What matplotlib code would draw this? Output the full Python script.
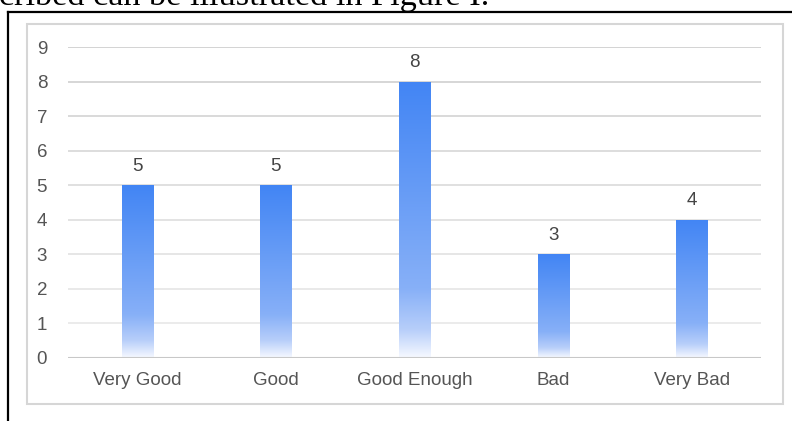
import numpy as np
import matplotlib
matplotlib.use("Agg")
import matplotlib.pyplot as plt
from matplotlib.colors import LinearSegmentedColormap
from matplotlib.patches import Rectangle

categories = ["Very Good", "Good", "Good Enough", "Bad", "Very Bad"]
values = [5, 5, 8, 3, 4]
y_ticks = [0, 1, 2, 3, 4, 5, 6, 7, 8, 9]
caption = "cribed can be illustrated in Figure I."

W, H = 792, 421
fig = plt.figure(figsize=(W / 100, H / 100), dpi=100)
fig.patch.set_facecolor("white")

def fx(px):
    return px / W

def fy(py):
    return 1 - py / H

# document caption text (cut off at top, as in the reference)
t = fig.text(fx(-1), fy(5), caption, family="Liberation Serif", fontsize=20,
             va="baseline", ha="left", color="black")
fig.canvas.draw()
bb = t.get_window_extent()
t.set_fontsize(20 * 492 / bb.width)

# black frame (document border)
fig.add_artist(plt.Line2D([fx(8), fx(800)], [fy(12), fy(12)], color="black", lw=1.6))
fig.add_artist(plt.Line2D([fx(8), fx(8)], [fy(12), fy(430)], color="black", lw=1.6))

# light gray chart box
fig.add_artist(Rectangle((fx(27), fy(404)), fx(783) - fx(27), fy(24) - fy(404),
                         fill=False, edgecolor="#d6d6d6", lw=1.5))

ax = fig.add_axes([fx(68), fy(358), fx(761) - fx(68), fy(47) - fy(358)])
ax.set_xlim(-0.5, len(categories) - 0.5)
ax.set_ylim(0, 9)
for s in ax.spines.values():
    s.set_visible(False)

for yv in y_ticks[1:]:
    frac = yv / 9
    c = np.array([0.925, 0.925, 0.925]) * (1 - frac) + np.array([0.80, 0.80, 0.80]) * frac
    ax.axhline(yv, color=c, lw=1.2, zorder=0)
ax.axhline(0, color="#c8c8c8", lw=1.5, zorder=3)

ax.set_yticks(y_ticks)
ax.set_yticklabels([str(v) for v in y_ticks])
ax.set_xticks(range(len(categories)))
ax.set_xticklabels(categories)
ax.tick_params(axis="both", length=0, labelsize=13.5, labelcolor="#555555")
ax.tick_params(axis="y", pad=15)
ax.tick_params(axis="x", pad=10)
for lab in ax.get_xticklabels() + ax.get_yticklabels():
    lab.set_family("Liberation Sans")

cmap = LinearSegmentedColormap.from_list("g", [
    (0.0, (0.965, 0.975, 1.0)),
    (0.10, (0.72, 0.81, 0.98)),
    (0.25, (0.53, 0.69, 0.97)),
    (1.0, (0.259, 0.522, 0.957)),
])

bars = ax.bar(range(len(categories)), values, width=0.225, color="none", edgecolor="none")
grad = np.linspace(0, 1, 256).reshape(-1, 1)
for b, v in zip(bars, values):
    x0, w, h = b.get_x(), b.get_width(), b.get_height()
    im = ax.imshow(grad, extent=[x0, x0 + w, 0, h], origin="lower", cmap=cmap,
                   aspect="auto", zorder=2, interpolation="bilinear")
    im.set_clip_path(b)
    ax.text(x0 + w / 2, h + 0.3, str(v), ha="center", va="bottom",
            fontsize=13.5, color="#444444", family="Liberation Sans")

ax.set_xlim(-0.5, len(categories) - 0.5)
ax.set_ylim(0, 9)

fig.savefig("out.png", dpi=100, facecolor="white")
